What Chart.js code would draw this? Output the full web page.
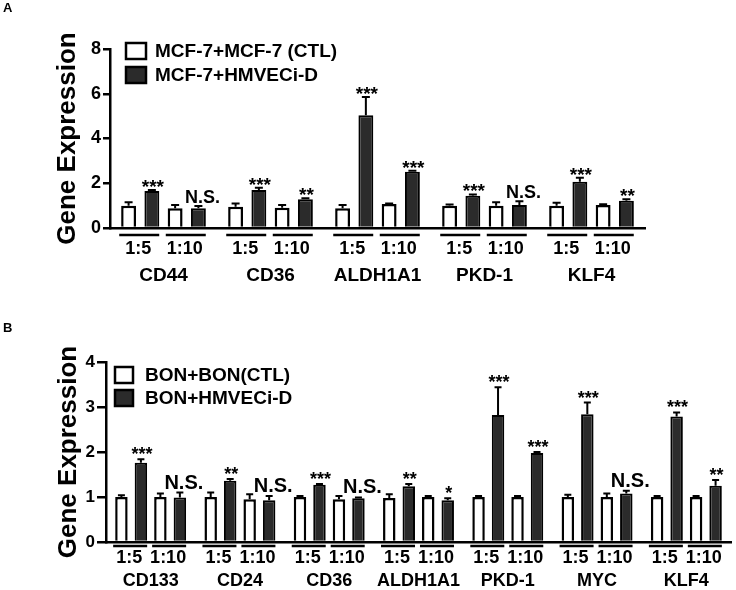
<!DOCTYPE html>
<html>
<head>
<meta charset="utf-8">
<script src="https://cdn.jsdelivr.net/npm/chart.js@4.4.1/dist/chart.umd.min.js"></script>
<style>
  body { margin: 0; background: #fff; width: 736px; height: 590px; position: relative; overflow: hidden; }
  .panel { position: absolute; left: 0; width: 736px; height: 295px; }
  .tag { position: absolute; left: 3px; font: bold 13px "Liberation Sans", Arial, sans-serif; color: #000; }
</style>
</head>
<body>
<div class="panel" style="top:0"><canvas id="chartA" width="736" height="295"></canvas></div>
<div class="panel" style="top:295px"><canvas id="chartB" width="736" height="295"></canvas></div>
<div class="tag" style="top:0px">A</div>
<div class="tag" style="top:320px">B</div>
<script>
const ratioLabels = ['1:5', '1:10'];

// Panel A: MCF-7 co-culture
const genesA = ['CD44', 'CD36', 'ALDH1A1', 'PKD-1', 'KLF4'];
const ctlA15 = [1.0, 0.95, 0.88, 1.0, 1.0];
const ctlA15Err = [0.15, 0.15, 0.15, 0.05, 0.13];
const hmA15 = [1.65, 1.7, 5.04, 1.44, 2.07];
const hmA15Err = [0.05, 0.1, 0.82, 0.06, 0.18];
const ctlA110 = [0.88, 0.9, 1.07, 1.0, 1.03];
const ctlA110Err = [0.15, 0.13, 0.03, 0.15, 0.03];
const hmA110 = [0.88, 1.28, 2.51, 1.03, 1.22];
const hmA110Err = [0.1, 0.05, 0.05, 0.17, 0.06];
const sigA15 = ['***', '***', '***', '***', '***'];
const sigA110 = ['N.S.', '**', '***', 'N.S.', '**'];

// Panel B: BON co-culture
const genesB = ['CD133', 'CD24', 'CD36', 'ALDH1A1', 'PKD-1', 'MYC', 'KLF4'];
const ctlB15 = [1.0, 1.0, 1.0, 0.98, 1.0, 1.0, 1.0];
const ctlB15Err = [0.04, 0.1, 0.02, 0.08, 0.02, 0.05, 0.02];
const hmB15 = [1.76, 1.36, 1.27, 1.24, 2.82, 2.84, 2.79];
const hmB15Err = [0.08, 0.04, 0.02, 0.05, 0.62, 0.26, 0.09];
const ctlB110 = [1.0, 0.95, 0.95, 1.0, 1.0, 1.0, 1.0];
const ctlB110Err = [0.08, 0.11, 0.07, 0.02, 0.02, 0.08, 0.02];
const hmB110 = [0.99, 0.93, 0.97, 0.93, 1.98, 1.08, 1.25];
const hmB110Err = [0.11, 0.09, 0.02, 0.04, 0.02, 0.06, 0.13];
const sigB15 = ['***', '**', '***', '**', '***', '***', '***'];
const sigB110 = ['N.S.', 'N.S.', 'N.S.', '*', '***', 'N.S.', '**'];

const FAMILY = '"Liberation Sans", Arial, sans-serif';
const DARK = '#2b2b2b';

function font(size) { return 'bold ' + size + 'px ' + FAMILY; }

// error bars, significance marks, ratio underlines and the legend box
const figurePlugin = {
  id: 'figure',
  afterDatasetsDraw(chart, args, o) {
    const ctx = chart.ctx;
    const y = chart.scales.y;
    const area = chart.chartArea;
    const sets = chart.data.datasets;
    const metas = sets.map((d, i) => chart.getDatasetMeta(i));
    ctx.save();
    ctx.strokeStyle = '#000';
    ctx.fillStyle = '#000';

    // error bars
    ctx.lineWidth = 2;
    sets.forEach((ds, di) => {
      metas[di].data.forEach((bar, i) => {
        const top = y.getPixelForValue(ds.data[i] + ds.errors[i]);
        ctx.beginPath();
        ctx.moveTo(bar.x, bar.y);
        ctx.lineTo(bar.x, top);
        ctx.moveTo(bar.x - o.cap / 2, top);
        ctx.lineTo(bar.x + o.cap / 2, top);
        ctx.stroke();
        if (ds.sig) {
          const txt = ds.sig[i];
          const ns = txt === 'N.S.';
          ctx.font = font(ns ? o.nsSize : o.starSize);
          ctx.textAlign = 'center';
          ctx.textBaseline = 'alphabetic';
          const m = ctx.measureText(txt);
          const bottom = top - (ns ? o.nsGap : o.starGap);
          ctx.fillText(txt, bar.x + (ns ? 4 : 1), bottom - m.actualBoundingBoxDescent);
        }
      });
    });

    // underlines and ratio labels under each pair
    ctx.lineWidth = 2.5;
    ctx.font = font(o.ratioSize);
    ctx.textAlign = 'center';
    ctx.textBaseline = 'middle';
    chart.data.labels.forEach((g, i) => {
      ratioLabels.forEach((r, p) => {
        const w = metas[2 * p].data[i];
        const b = metas[2 * p + 1].data[i];
        const cx = (w.x + b.x) / 2 - 1;
        const ly = area.bottom + o.ulGap;
        ctx.beginPath();
        ctx.moveTo(cx - o.ulHalf, ly);
        ctx.lineTo(cx + o.ulHalf, ly);
        ctx.stroke();
        ctx.fillText(r, cx - 1, area.bottom + o.ratioY);
      });
    });

    // legend
    ctx.font = font(o.legSize);
    ctx.textAlign = 'left';
    ctx.textBaseline = 'middle';
    [0, 1].forEach(k => {
      const ds = sets[k];
      const by = o.legY + k * o.legGap;
      ctx.fillStyle = ds.backgroundColor;
      ctx.fillRect(o.legX, by, o.boxW, o.boxH);
      ctx.lineWidth = 2.5;
      ctx.strokeRect(o.legX, by, o.boxW, o.boxH);
      ctx.fillStyle = '#000';
      ctx.fillText(ds.label, o.legX + o.textDx, by + o.boxH / 2 + 1);
    });
    ctx.restore();
  }
};

function makeChart(id, genes, ctlName, hmName, series, opt) {
  const [c15, c15e, h15, h15e, c110, c110e, h110, h110e, s15, s110] = series;
  const white = { backgroundColor: '#fff', borderColor: '#000', borderWidth: 2.5 };
  const dark = { backgroundColor: DARK, borderColor: '#000', borderWidth: 2 };
  return new Chart(document.getElementById(id), {
    type: 'bar',
    data: {
      labels: genes,
      datasets: [
        Object.assign({ label: ctlName, data: c15, errors: c15e }, white),
        Object.assign({ label: hmName, data: h15, errors: h15e, sig: s15 }, dark),
        Object.assign({ label: ctlName, data: c110, errors: c110e }, white),
        Object.assign({ label: hmName, data: h110, errors: h110e, sig: s110 }, dark)
      ]
    },
    options: {
      responsive: false,
      animation: false,
      layout: { padding: { left: 0, top: opt.top, right: opt.right, bottom: 0 } },
      datasets: { bar: { categoryPercentage: opt.cat, barPercentage: 0.64 } },
      plugins: {
        legend: { display: false },
        tooltip: { enabled: false },
        figure: opt.fig
      },
      scales: {
        x: {
          grid: { display: false },
          border: { color: '#000', width: 2.5 },
          ticks: { color: '#000', font: { family: FAMILY, size: opt.geneSize, weight: 'bold' }, padding: opt.genePad, maxRotation: 0, autoSkip: false },
          afterFit: s => { s.height = opt.xh; }
        },
        y: {
          min: 0,
          max: opt.max,
          ticks: { stepSize: opt.step, color: '#000', font: { family: FAMILY, size: opt.tickSize, weight: 'bold' }, padding: 2 },
          grid: { drawOnChartArea: false, tickLength: opt.tickLen, color: '#000', lineWidth: 2.5 },
          border: { color: '#000', width: 2.5 },
          title: { display: true, text: 'Gene Expression', color: '#000', font: { family: FAMILY, size: 26, weight: 'bold' }, padding: { top: opt.titlePad, bottom: 0 } },
          afterFit: s => { s.width = opt.yw; }
        }
      }
    },
    plugins: [figurePlugin]
  });
}

makeChart('chartA', genesA, 'MCF-7+MCF-7 (CTL)', 'MCF-7+HMVECi-D',
  [ctlA15, ctlA15Err, hmA15, hmA15Err, ctlA110, ctlA110Err, hmA110, hmA110Err, sigA15, sigA110],
  { top: 49, right: 91, xh: 67, yw: 110, max: 8, step: 2, tickSize: 18, tickLen: 7, titlePad: 52,
    cat: 0.87, geneSize: 19, genePad: 28,
    fig: { cap: 8, starSize: 19, nsSize: 18, starGap: 3, nsGap: 3, ratioSize: 18, ulGap: 7, ulHalf: 20, ratioY: 21.5,
           legX: 126, legY: 43, legGap: 24, boxW: 20, boxH: 16, textDx: 29, legSize: 19 } });

makeChart('chartB', genesB, 'BON+BON(CTL)', 'BON+HMVECi-D',
  [ctlB15, ctlB15Err, hmB15, hmB15Err, ctlB110, ctlB110Err, hmB110, hmB110Err, sigB15, sigB110],
  { top: 67, right: 5, xh: 48, yw: 106, max: 4, step: 1, tickSize: 17, tickLen: 9, titlePad: 53,
    cat: 0.873, geneSize: 18, genePad: 20,
    fig: { cap: 7, starSize: 18, nsSize: 20, starGap: 5, nsGap: 4, ratioSize: 18, ulGap: 4, ulHalf: 17, ratioY: 16,
           legX: 115, legY: 72, legGap: 23, boxW: 18, boxH: 16, textDx: 30, legSize: 19 } });
</script>
</body>
</html>
